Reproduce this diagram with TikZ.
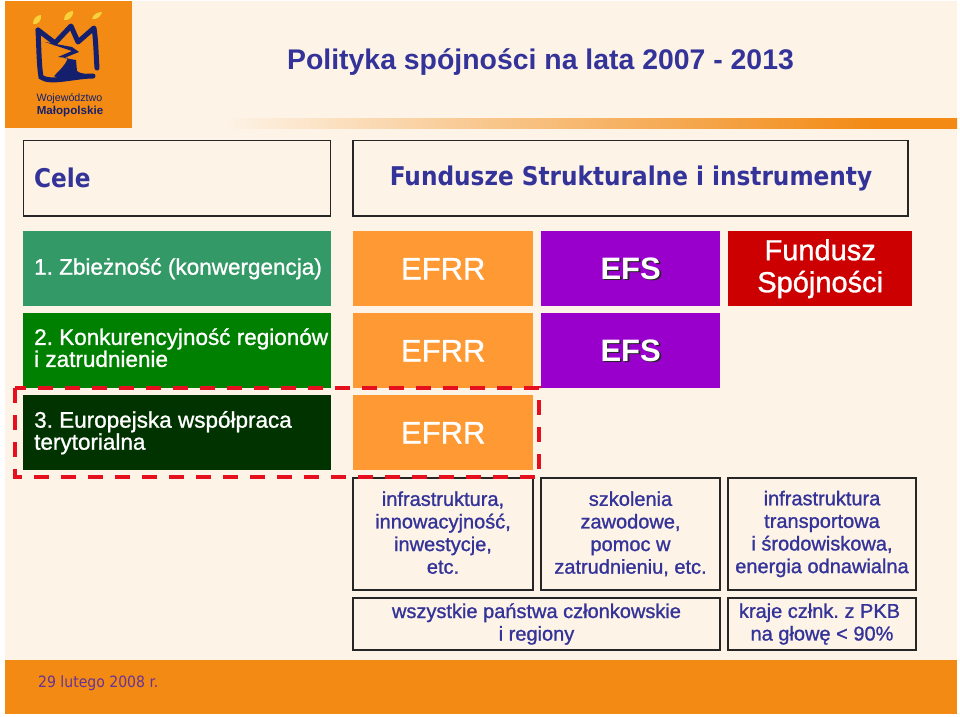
\documentclass[tikz,border=0pt]{standalone}
\usepackage{fontspec}
\setmainfont{Liberation Sans}
\newfontfamily\headfont[BoldFont={DejaVu Sans Condensed Bold}]{DejaVu Sans Condensed}
\newfontfamily\thickfont[FakeBold=1.1]{Liberation Sans}
\frenchspacing
\definecolor{SlideBack}{HTML}{FDF3E6}
\definecolor{SlideOrange}{HTML}{F28A14}
\definecolor{SlideNavy}{HTML}{333399}
\definecolor{LogoNavy}{HTML}{14206E}
\definecolor{LogoYellow}{HTML}{F8D23C}
\definecolor{GoalOne}{HTML}{339966}
\definecolor{GoalTwo}{HTML}{008000}
\definecolor{GoalThree}{HTML}{003300}
\definecolor{FundOrange}{HTML}{FF9933}
\definecolor{FundPurple}{HTML}{9900CC}
\definecolor{FundRed}{HTML}{CC0000}
\definecolor{DashRed}{HTML}{E60F1E}
\definecolor{DateText}{HTML}{663399}
\pgfdeclarehorizontalshading{bandfade}{100bp}{
    color(0bp)=(SlideBack); color(25bp)=(SlideBack); color(42.75bp)=(SlideBack!58!SlideOrange);
    color(56.5bp)=(SlideBack!28!SlideOrange); color(69.5bp)=(SlideOrange); color(100bp)=(SlideOrange)}

\begin{document}
\begin{tikzpicture}[
    x=1pt, y=-1pt,
    font=\fontsize{20}{23}\selectfont,
    % Box Styles
    headbox/.style={draw=black!85, line width=1.4pt, fill=SlideBack, anchor=north west, inner sep=0pt, outer sep=0pt},
    headtext/.style={font=\fontsize{25.8}{28}\selectfont\headfont\bfseries, text=SlideNavy, inner sep=0pt},
    goalbox/.style={anchor=north west, inner sep=0pt, minimum height=75pt, minimum width=308pt},
    goaltext/.style={anchor=west, inner sep=0pt, xshift=11pt, text=white, align=left,
        font=\fontsize{22.5}{22}\selectfont\thickfont},
    fundbox/.style={anchor=north west, inner sep=0pt, text=white, align=center, minimum height=75pt},
    efrr/.style={fundbox, fill=FundOrange, minimum width=180pt, font=\fontsize{31}{34}\selectfont\thickfont},
    efs/.style={fundbox, fill=FundPurple, minimum width=179pt},
    efslabel/.style={font=\fontsize{31}{34}\selectfont\bfseries},
    notebox/.style={draw=black!85, line width=1.6pt, anchor=north west, inner sep=0pt, outer sep=0pt, align=center,
        text=SlideNavy, font=\fontsize{20}{22.6}\selectfont\thickfont,
        execute at begin node={\rule{0pt}{21pt}}, execute at end node={\rule[-3pt]{0pt}{3pt}}}
]
    % Slide background
    \useasboundingbox (0,0) rectangle (960,716);
    \fill[white] (0,0) rectangle (960,716);
    \fill[SlideBack] (5,1) rectangle (957,714);
    \fill[SlideOrange] (5,660) rectangle (957,714);
    \shade[shading=bandfade] (225,118) rectangle (957,128);

    % Logo
    \fill[SlideOrange] (5,1) rectangle (132,128);
    \fill[LogoYellow] (33,24) .. controls (33,18) and (37,15) .. (41,15) .. controls (42,20) and (38,25) .. (33,24);
    \fill[LogoYellow] (64,20) .. controls (64,14) and (69,11) .. (73,11) .. controls (74,16) and (69,21) .. (64,20);
    \fill[LogoYellow] (92,19) .. controls (93,14) and (98,12) .. (102,12) .. controls (101,16) and (97,20) .. (92,19);
    \draw[LogoNavy, line width=5pt, line join=round, line cap=round]
        (38,30) -- (55,43) -- (71,26) -- (78,42) -- (94,28) .. controls (96,40) and (96,55) .. (97,68);
    \draw[LogoNavy, line width=5pt, line cap=round]
        (38,30) .. controls (39,50) and (39,65) .. (41,77) .. controls (50,84) and (75,76) .. (93,76);
    \fill[LogoNavy] (45,42) -- (72,47) -- (79,52) -- (64,58) -- (76,60) -- (77,71)
        .. controls (80,74) and (88,74) .. (95,75) -- (60,79) -- (54,76)
        .. controls (60,70) and (66,64) .. (68,58) -- (58,57) -- (72,51) -- cycle;
    \node[font=\fontsize{10.7}{12}\selectfont, text=LogoNavy] (logoname) at (69.5,99) {Województwo};
    \node[font=\fontsize{11.6}{12}\selectfont\bfseries, text=LogoNavy] (logoregion) at (70,111.5) {Małopolskie};

    % Title
    \node[font=\fontsize{28.4}{30}\selectfont\bfseries, text=SlideNavy] (title) at (540.5,62.5)
        {Polityka spójności na lata 2007 - 2013};

    % Header row
    \node[headbox, minimum width=307pt, minimum height=75.5pt] (cele) at (23.5,140.3) {};
    \node[headbox, minimum width=555pt, minimum height=75.5pt] (fundusze) at (353,140.3) {};
    \node[headtext, anchor=west] (celetext) at (34,178) {Cele};
    \node[headtext] (fundtext) at (631,178) {Fundusze Strukturalne i instrumenty};

    % Goals
    \node[goalbox, fill=GoalOne] (goalone) at (23,231) {};
    \node[goalbox, fill=GoalTwo] (goaltwo) at (23,313) {};
    \node[goalbox, fill=GoalThree] (goalthree) at (23,395) {};
    \node[goaltext] (goalonetext) at (goalone.west) {1. Zbieżność (konwergencja)};
    \node[goaltext, yshift=3pt] (goaltwotext) at (goaltwo.west) {2. Konkurencyjność regionów\\i zatrudnienie};
    \node[goaltext] (goalthreetext) at (goalthree.west) {3. Europejska współpraca\\terytorialna};

    % Funds
    \node[efrr] (efrrone) at (353,231) {EFRR};
    \node[efrr] (efrrtwo) at (353,313) {EFRR};
    \node[efrr] (efrrthree) at (353,395) {EFRR};
    \node[efs] (efsone) at (541,231) {};
    \node[efs] (efstwo) at (541,313) {};
    \foreach \boxname in {efsone, efstwo} {
        \node[efslabel, text=black!85] at ([xshift=1.6pt, yshift=-1.6pt]\boxname.center) {EFS};
        \node[efslabel, text=white] at (\boxname.center) {EFS};
    }
    \node[fundbox, fill=FundRed, minimum width=184pt, font=\fontsize{29}{32}\selectfont\thickfont,
        execute at begin node={\rule{0pt}{31pt}}] (spojnosc) at (728,231)
        {Fundusz\\Spójności};

    % Notes
    \node[notebox, minimum width=180pt, minimum height=112pt] (noteone) at (353,478)
        {infrastruktura,\\innowacyjność,\\inwestycje,\\etc.};
    \node[notebox, minimum width=179pt, minimum height=112pt] (notetwo) at (541,478)
        {szkolenia\\zawodowe,\\pomoc w\\zatrudnieniu, etc.};
    \node[notebox, minimum width=188pt, minimum height=112pt] (notethree) at (728,478)
        {infrastruktura\\transportowa\\i środowiskowa,\\energia odnawialna};
    \node[notebox, minimum width=367pt, minimum height=52pt] (noteall) at (353,598)
        {wszystkie państwa członkowskie\\i regiony};
    \node[notebox, minimum width=188pt, minimum height=52pt] (notegdp) at (728,598)
        {kraje człnk. z PKB\hspace*{5pt}\\na głowę < 90\%};

    % Dashed frame
    \draw[DashRed, line width=4.5pt, dash pattern=on 15pt off 12pt] (15,388) rectangle (539,477);

    % Footer
    \node[font=\fontsize{15.6}{20}\selectfont\headfont, text=DateText, anchor=west, inner sep=0pt] (datetext) at (38,683)
        {29 lutego 2008 r.};
\end{tikzpicture}
\end{document}
